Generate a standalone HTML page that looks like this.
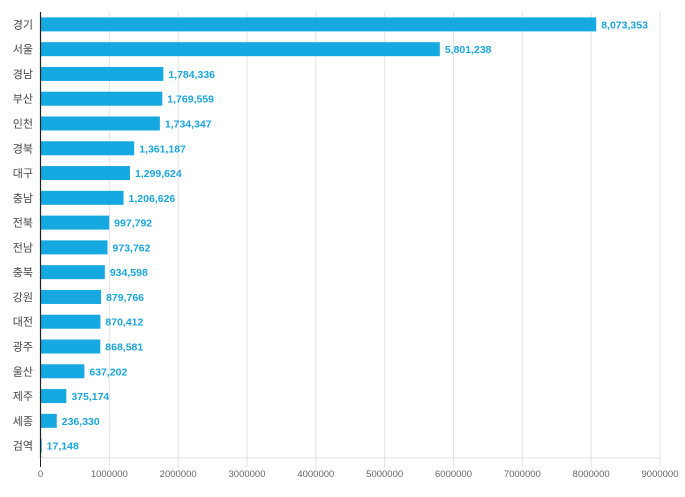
<!DOCTYPE html>
<html><head><meta charset="utf-8"><style>
body{margin:0;background:#fff;}
svg{display:block;font-family:"Liberation Sans","Noto Sans CJK KR",sans-serif;}
</style></head><body>
<svg id="chart" width="685" height="497"></svg>
<script>
const categories=["경기","서울","경남","부산","인천","경북","대구","충남","전북","전남","충북","강원","대전","광주","울산","제주","세종","검역"];
const values=[8073353,5801238,1784336,1769559,1734347,1361187,1299624,1206626,997792,973762,934598,879766,870412,868581,637202,375174,236330,17148];
const ticks=[0,1000000,2000000,3000000,4000000,5000000,6000000,7000000,8000000,9000000];
const svg=document.getElementById('chart');
const NS='http://www.w3.org/2000/svg';
const x0=40.5,x1=660,yTop=12,yBot=458,xmax=9000000;
const xs=v=>x0+(x1-x0)*v/xmax;
const band=(yBot-yTop)/categories.length;
const yc=i=>yTop+band*(i+0.5);
function mk(t,a,p){const e=document.createElementNS(NS,t);for(const k in a)e.setAttribute(k,a[k]);(p||svg).appendChild(e);return e;}
const grid=mk('g',{});


ticks.forEach(t=>{
  if(t>0){const l=mk('line',{x1:xs(t),x2:xs(t),y1:yTop,y2:yBot,stroke:'#e3e3e3','stroke-width':1},grid);
  
  }
  const tk=mk('line',{x1:xs(t),x2:xs(t),y1:yBot,y2:yBot+9,stroke:t==0?'#222':'#e3e3e3'});
  
  
  const tx=mk('text',{x:xs(t),y:yBot+19,'text-anchor':'middle','font-size':9.5,fill:'#666'});
  tx.textContent=t;
  
  
});
const hl=mk('line',{x1:x0,x2:x1,y1:yBot,y2:yBot,stroke:'#e3e3e3'});


categories.forEach((c,i)=>{
  const y=yc(i);
  const r=mk('rect',{x:x0,y:y-7,width:Math.max(1,xs(values[i])-x0),height:14,fill:'#16a8e0'});
  
  
  const lb=mk('text',{x:33,y:y+4,'text-anchor':'end','font-size':11,fill:'#444'});
  lb.textContent=c;
  
  
  const vl=mk('text',{x:xs(values[i])+5,y:y+4,'font-size':10.5,'font-weight':'bold',fill:'#1aa6dc'});
  vl.textContent=values[i].toLocaleString('en-US');
  
  
});
const ya=mk('line',{x1:x0,x2:x0,y1:yTop,y2:yBot,stroke:'#222','stroke-width':1.2});


</script>
</body></html>
